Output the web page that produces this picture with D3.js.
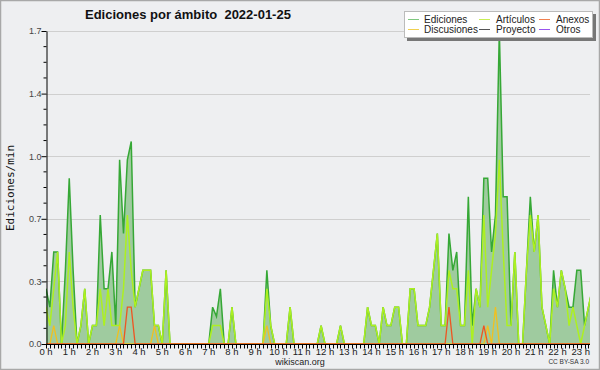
<!DOCTYPE html>
<html><head><meta charset="utf-8">
<script src="https://cdn.jsdelivr.net/npm/d3@7"></script>
<style>html,body{margin:0;padding:0;background:#eeeff1;}svg{display:block;}</style>
</head><body>
<script>
// 10-minute slots, edits per minute, 00:00 .. 23:30
const ediciones = [
 0.3,0.2,0.5,0.5,0,0.4,   0.9,0.4,0,0.1,0.3,0,   0.1,0.1,0.7,0.3,0.3,0.5,   0.1,1.0,0.6,1.0,1.1,0.2,
 0.3,0.4,0.4,0.4,0.1,0.1, 0,0.4,0,0,0,0,          0,0,0,0,0,0,               0,0.2,0.15,0.3,0,0,
 0.2,0,0,0,0,0,           0,0,0,0.4,0.1,0,        0,0,0,0.2,0,0,             0,0,0,0,0,0.1,
 0,0,0,0,0.1,0,           0,0,0,0,0,0.2,          0.1,0.1,0,0.2,0.1,0.1,     0.2,0.2,0,0,0.3,0.3,
 0.1,0.1,0.1,0.2,0.4,0.6, 0.1,0.1,0.6,0.4,0.5,0.1,0.1,0.8,0.1,0.3,0.2,0.9,     0.9,0.5,0.7,1.7,0.8,0.8,
 0.1,0.5,0,0,0.4,0.8,     0.5,0.7,0.2,0.1,0,0.4,  0.2,0.4,0.3,0.2,0.2,0.4,   0.4,0.1,0.2,0.3
];
const articulos = [
 0.2,0.1,0.3,0.5,0,0.1,   0.5,0.2,0,0.1,0.3,0,   0.1,0.1,0.3,0.1,0.3,0.1,   0.1,0.1,0.3,0.7,0.4,0.2,
 0.3,0.4,0.4,0.4,0.1,0.1, 0,0.4,0,0,0,0,          0,0,0,0,0,0,               0,0.1,0.1,0.1,0,0,
 0.2,0,0,0,0,0,           0,0,0,0.3,0.1,0,        0,0,0,0.2,0,0,             0,0,0,0,0,0.1,
 0,0,0,0,0.1,0,           0,0,0,0,0,0.2,          0.1,0.1,0,0.2,0.1,0.1,     0.2,0.2,0,0,0.3,0.3,
 0.1,0.1,0.1,0.2,0.4,0.6, 0.1,0.1,0.4,0.3,0.3,0.1,0.1,0.4,0,0.3,0.2,0.7,       0.2,0.4,0.6,1.0,0.5,0.1,
 0.1,0.5,0,0,0.4,0.7,     0.5,0.7,0.2,0.1,0,0.3,  0.2,0.4,0.3,0.1,0.2,0.1,   0,0.1,0.2,0.3
];
const discusiones = [
 0,0,0.1,0,0,0, 0,0,0,0,0,0, 0,0,0,0,0,0, 0,0.1,0,0,0,0,
 0,0,0,0,0.1,0, 0,0,0,0,0,0, 0,0,0,0,0,0, 0,0,0,0,0,0,
 0,0,0,0,0,0,   0,0,0,0.1,0,0, 0,0,0,0,0,0, 0,0,0,0,0,0,
 0,0,0,0,0,0,   0,0,0,0,0,0, 0,0,0,0,0,0, 0,0,0,0,0,0,
 0,0,0,0,0,0,   0,0,0,0,0,0, 0,0,0,0,0,0, 0.1,0,0.2,0,0,0,
 0,0,0,0,0,0,   0,0,0,0,0,0, 0,0,0,0,0,0, 0,0,0,0
];
const anexos = [
 0,0,0,0,0,0, 0,0,0,0,0,0, 0,0,0,0,0,0, 0,0,0,0.2,0.2,0,
 0,0,0,0,0,0, 0,0,0,0,0,0, 0,0,0,0,0,0, 0,0,0,0,0,0,
 0,0,0,0,0,0, 0,0,0,0,0,0, 0,0,0,0,0,0, 0,0,0,0,0,0,
 0,0,0,0,0,0, 0,0,0,0,0,0, 0,0,0,0,0,0, 0,0,0,0,0,0,
 0,0,0,0,0,0, 0,0,0.2,0,0,0, 0,0,0,0,0,0.1, 0,0,0,0,0,0,
 0,0,0,0,0,0, 0,0,0,0,0,0, 0,0,0,0,0,0, 0,0,0,0
];
const hourLabels = d3.range(0, 24).map(h => h + " h");
const yTicks = [0, 0.34, 0.68, 1.02, 1.36, 1.7];
const legendItems = [
  ["Ediciones", "#7fc87f"], ["Artículos", "#c8ee55"], ["Anexos", "#f08050"],
  ["Discusiones", "#f0d050"], ["Proyecto", "#555555"], ["Otros", "#9955ee"]
];

const W = 600, H = 370;
const svg = d3.select("body").append("svg").attr("width", W).attr("height", H);
svg.append("rect").attr("x", 0.5).attr("y", 0.5).attr("width", W - 1).attr("height", H - 1)
  .attr("fill", "#eeeff1").attr("stroke", "#a8a8a8").attr("stroke-width", 1.5);

const x = d3.scaleLinear().domain([0, 140.4]).range([46, 590]);
const y = d3.scaleLinear().domain([0, 1.7]).range([344, 31]);

// grid
svg.append("g").selectAll("line").data(yTicks.slice(1)).join("line")
  .attr("x1", 46).attr("x2", 590).attr("y1", d => Math.round(y(d)) + 0.5).attr("y2", d => Math.round(y(d)) + 0.5)
  .attr("stroke", "#cfcfcf").attr("stroke-width", 1);

svg.append("defs").append("clipPath").attr("id", "clip")
  .append("rect").attr("x", 46).attr("y", 0).attr("width", 544).attr("height", 344);

const plot = svg.append("g").attr("clip-path", "url(#clip)");
const area = d3.area().x((d, i) => x(i)).y0(y(0)).y1(d => y(d));
const line = d3.line().x((d, i) => x(i)).y(d => y(d));

plot.append("path").datum(ediciones).attr("d", area).attr("fill", "#9fcb9f");
plot.append("path").datum(ediciones).attr("d", line).attr("fill", "none").attr("stroke", "#36a836").attr("stroke-width", 1.5);
plot.append("path").datum(articulos).attr("d", line).attr("fill", "none").attr("stroke", "#adf020").attr("stroke-width", 1.5);
plot.append("path").datum(discusiones).attr("d", line).attr("fill", "none").attr("stroke", "#f0c020").attr("stroke-width", 1.3);
plot.append("path").datum(anexos).attr("d", line).attr("fill", "none").attr("stroke", "#ee5522").attr("stroke-width", 1.3);

// y axis
const yAxis = d3.axisLeft(y).tickValues(yTicks).tickFormat(d3.format(".1f")).tickSize(5).tickSizeOuter(0);
const gy = svg.append("g").attr("transform", "translate(46.5,0)").call(yAxis);
gy.selectAll("text").attr("font-family", "Liberation Sans, Arial, sans-serif").attr("font-size", 9).attr("fill", "#444").attr("x", -5);
gy.select(".domain").attr("stroke", "#000");
const minor = d3.range(0, 21).map(k => k * 0.085).filter((d, k) => k % 4 !== 0);
gy.append("g").selectAll("line").data(minor).join("line")
  .attr("x1", -3).attr("x2", 0).attr("y1", d => y(d)).attr("y2", d => y(d)).attr("stroke", "#000");

// x axis
const gx = svg.append("g").attr("transform", "translate(0,344.5)");
gx.append("line").attr("x1", 46).attr("x2", 590).attr("stroke", "#000").attr("stroke-width", 1.2);
gx.append("g").selectAll("line").data(d3.range(0, 141)).join("line")
  .attr("x1", d => Math.round(x(d)) + 0.5).attr("x2", d => Math.round(x(d)) + 0.5).attr("y1", 0).attr("y2", 4).attr("stroke", "#000");
gx.append("g").selectAll("text").data(hourLabels).join("text")
  .attr("x", (d, i) => x(i * 6)).attr("y", 10).attr("text-anchor", "middle")
  .attr("font-family", "Liberation Sans, Arial, sans-serif").attr("font-size", 9.5).attr("fill", "#222").text(d => d);

// titles
svg.append("text").attr("x", 85).attr("y", 19).attr("font-family", "Liberation Sans, Arial, sans-serif")
  .attr("font-weight", "bold").attr("font-size", 13).attr("fill", "#111").style("white-space", "pre")
  .text("Ediciones por ámbito  2022-01-25");
svg.append("text").attr("transform", "translate(14,188) rotate(-90)").attr("text-anchor", "middle")
  .attr("font-family", "DejaVu Sans Mono, monospace").attr("font-size", 11).attr("fill", "#111").text("Ediciones/min");
svg.append("text").attr("x", 300).attr("y", 365).attr("text-anchor", "middle")
  .attr("font-family", "Liberation Sans, Arial, sans-serif").attr("font-size", 9).attr("fill", "#222").text("wikiscan.org");
svg.append("text").attr("x", 589).attr("y", 364).attr("text-anchor", "end")
  .attr("font-family", "Liberation Sans, Arial, sans-serif").attr("font-size", 6.5).attr("fill", "#333").text("CC BY-SA 3.0");

// legend
const lg = svg.append("g");
lg.append("rect").attr("x", 407).attr("y", 14).attr("width", 189).attr("height", 27).attr("fill", "#777");
lg.append("rect").attr("x", 404.5).attr("y", 11.5).attr("width", 188).attr("height", 26).attr("fill", "#fff").attr("stroke", "#bbb");
const colX = [408, 479, 539];
const textX = [424, 496, 556];
legendItems.forEach(([name, col], k) => {
  const c = k % 3, r = Math.floor(k / 3);
  const ly = 19.5 + r * 10;
  lg.append("line").attr("x1", colX[c]).attr("x2", colX[c] + 11).attr("y1", ly).attr("y2", ly).attr("stroke", col).attr("stroke-width", 1);
  lg.append("text").attr("x", textX[c]).attr("y", ly + 3.5).attr("font-family", "Liberation Sans, Arial, sans-serif")
    .attr("font-size", 10).attr("fill", "#222").text(name);
});
</script>
</body></html>
